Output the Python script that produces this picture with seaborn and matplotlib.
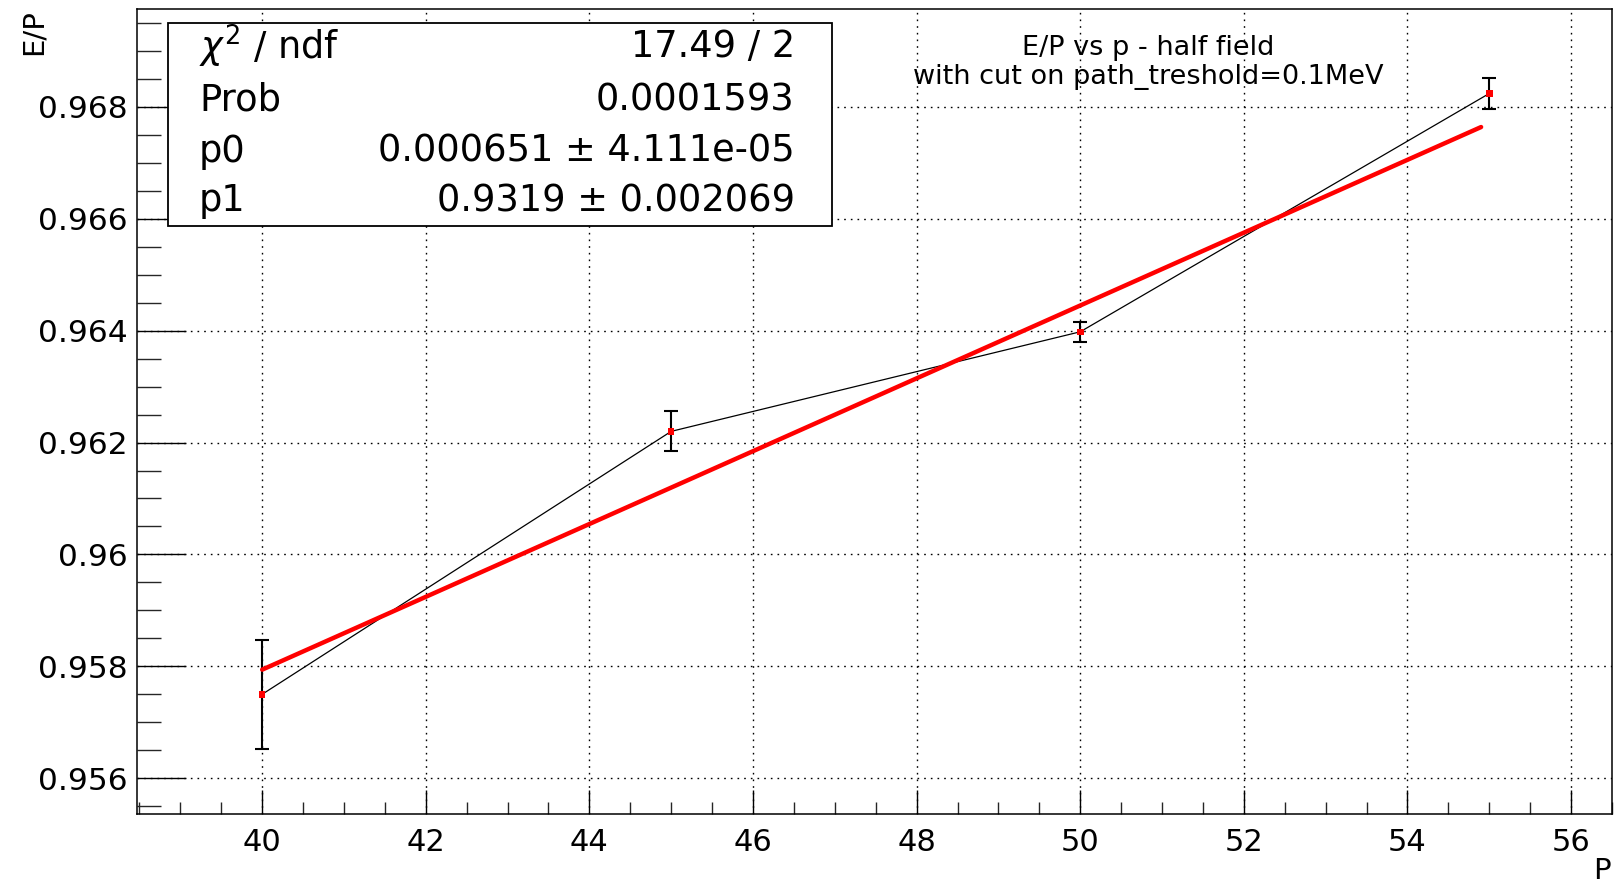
import numpy as np
import pandas as pd
import matplotlib
matplotlib.use("Agg")
import matplotlib.pyplot as plt
import seaborn as sns
from matplotlib.ticker import MultipleLocator, FixedLocator, FuncFormatter
from matplotlib.patches import Rectangle

# Measured E/P ratio per momentum point
momentum = [40, 45, 50, 55]
ep_ratio = [0.9575, 0.9622, 0.96398, 0.96824]
ep_error = [0.00097, 0.00036, 0.00018, 0.00028]

# Linear fit: E/P = p1 + p0 * P
fit_p0 = 0.000651
fit_p1 = 0.9319
fit_range = [40, 54.9]

stat_names = [r"$\chi^{2}$ / ndf", "Prob", "p0", "p1"]
stat_values = ["17.49 / 2", "0.0001593", "0.000651 ± 4.111e-05", "0.9319 ± 0.002069"]

title_lines = ["E/P vs p - half field", "with cut on path_treshold=0.1MeV"]

x_ticks = [40, 42, 44, 46, 48, 50, 52, 54, 56]
y_ticks = [0.956, 0.958, 0.960, 0.962, 0.964, 0.966, 0.968]

sns.set_style("white")
plt.rcParams["font.family"] = ["DejaVu Sans"]
plt.rcParams["mathtext.fontset"] = "dejavusans"
plt.rcParams["text.color"] = "black"

W, H = 1614, 883
fig = plt.figure(figsize=(W / 100, H / 100), dpi=100)
ax_l, ax_r, ax_t, ax_b = 137, 1612, 9, 814
ax = fig.add_axes([ax_l / W, 1 - ax_b / H, (ax_r - ax_l) / W, (ax_b - ax_t) / H])

data = pd.DataFrame({"P": momentum, "EP": ep_ratio, "err": ep_error})
x_fit = np.linspace(fit_range[0], fit_range[1], 200)
fit_df = pd.DataFrame({"P": x_fit, "EP": fit_p1 + fit_p0 * x_fit})

# polyline through the measured points
sns.lineplot(data=data, x="P", y="EP", color="black", linewidth=0.9, ax=ax, zorder=3)
ax.errorbar(data["P"], data["EP"], yerr=data["err"], fmt="none", ecolor="black",
            elinewidth=1.5, capsize=5, capthick=1.5, zorder=4)
# fitted line
sns.lineplot(data=fit_df, x="P", y="EP", color="red", linewidth=3.2, ax=ax, zorder=5)
sns.scatterplot(data=data, x="P", y="EP", marker="s", s=22, color="red",
                edgecolor="none", ax=ax, zorder=6)

ax.set_xlim(38.47, 56.5)
ax.set_ylim(0.95536, 0.96975)
ax.set_xlabel("")
ax.set_ylabel("")

ax.xaxis.set_major_locator(FixedLocator(x_ticks))
ax.yaxis.set_major_locator(FixedLocator(y_ticks))
ax.xaxis.set_minor_locator(MultipleLocator(0.5))
ax.yaxis.set_minor_locator(MultipleLocator(0.0005))
ax.yaxis.set_major_formatter(FuncFormatter(lambda v, _: f"{v:g}"))
ax.xaxis.set_major_formatter(FuncFormatter(lambda v, _: f"{v:g}"))

ax.tick_params(axis="x", which="major", direction="in", length=17, width=1,
               pad=10, labelsize=22, top=False, bottom=True, colors="black")
ax.tick_params(axis="x", which="minor", direction="in", length=8.6, width=1,
               top=False, bottom=True)
ax.tick_params(axis="y", which="major", direction="in", length=35, width=1,
               pad=7, labelsize=22.5, right=False, left=True, colors="black")
ax.tick_params(axis="y", which="minor", direction="in", length=17, width=1,
               right=False, left=True)

for s in ax.spines.values():
    s.set_color("black")
    s.set_linewidth(1.1)

ax.grid(True, which="major", color="black", linestyle=(0, (1.2, 3.6)), linewidth=1.0)
ax.set_axisbelow(True)

# statistics box
ax.add_patch(Rectangle((0.021, 0.7304), 0.4502, 0.2522, transform=ax.transAxes,
                       facecolor="white", edgecolor="black", linewidth=1.3,
                       zorder=10, clip_on=False))
row_y = [0.954, 0.887, 0.8236, 0.7615]
for name, val, yy in zip(stat_names, stat_values, row_y):
    ax.text(0.042, yy, name, transform=ax.transAxes, ha="left", va="center",
            fontsize=26.5, zorder=11)
    ax.text(0.446, yy, val, transform=ax.transAxes, ha="right", va="center",
            fontsize=26.5, zorder=11)

# title
ax.text(0.6854, 0.9516, title_lines[0], transform=ax.transAxes, ha="center",
        va="center", fontsize=19.5, zorder=11)
ax.text(0.6854, 0.9155, title_lines[1], transform=ax.transAxes, ha="center",
        va="center", fontsize=19.5, zorder=11)

# axis titles
fig.text(34 / W, 1 - 9 / H, "E/P", rotation=90, ha="center", va="top", fontsize=21)
fig.text(1611 / W, 1 - 871 / H, "P", ha="right", va="center", fontsize=21)

fig.savefig("out.png", dpi=100)
